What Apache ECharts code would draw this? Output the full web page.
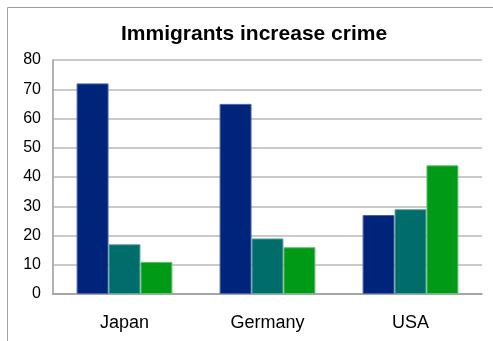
<!DOCTYPE html>
<html>
<head>
<meta charset="utf-8">
<script src="https://cdn.jsdelivr.net/npm/echarts@6/dist/echarts.min.js"></script>
<style>
  html, body { margin: 0; padding: 0; background: #fff; }
  #chart { width: 493px; height: 341px; }
</style>
</head>
<body>
<div id="chart"></div>
<script>
// Survey results: share agreeing that immigrants increase crime
const categories = ['Japan', 'Germany', 'USA'];
const seriesA = [72, 65, 27];
const seriesB = [17, 19, 29];
const seriesC = [11, 16, 44];
const yTicks = [0, 10, 20, 30, 40, 50, 60, 70, 80];

const chart = echarts.init(document.getElementById('chart'));
const font = 'Liberation Sans, Arial, sans-serif';

function barSeries(data, fill, edge) {
  return {
    type: 'bar',
    data: data,
    barGap: '0%',
    barCategoryGap: '33%',
    itemStyle: { color: fill, borderColor: edge, borderWidth: 1 },
    silent: true
  };
}

chart.setOption({
  animation: false,
  title: {
    text: 'Immigrants increase crime',
    left: 116,
    top: 19,
    textStyle: { fontFamily: font, fontSize: 21, fontWeight: 'bold', color: '#000' }
  },
  graphic: [
    { type: 'line', shape: { x1: 7.5, y1: 7.5, x2: 493, y2: 7.5 }, style: { stroke: '#a0a0a0', lineWidth: 1 } },
    { type: 'line', shape: { x1: 7.5, y1: 7.5, x2: 7.5, y2: 341 }, style: { stroke: '#a0a0a0', lineWidth: 1 } }
  ],
  grid: { left: 53, top: 60, right: 11, bottom: 47, containLabel: false },
  xAxis: {
    type: 'category',
    data: categories,
    axisLine: { show: true, lineStyle: { color: '#9a9a9a', width: 1.5 } },
    axisTick: { show: false },
    axisLabel: { fontFamily: font, fontSize: 18, color: '#000', margin: 20 }
  },
  yAxis: {
    type: 'value',
    min: yTicks[0],
    max: yTicks[yTicks.length - 1],
    interval: 10,
    axisLine: { show: true, lineStyle: { color: '#9a9a9a', width: 1.5 } },
    axisTick: { show: false },
    axisLabel: { fontFamily: font, fontSize: 16, color: '#000', margin: 12 },
    splitLine: { show: true, lineStyle: { color: '#b8b8b8', width: 1.5 } }
  },
  series: [
    barSeries(seriesA, '#00247a', '#4a63a8'),
    barSeries(seriesB, '#006d6b', '#5aa5a0'),
    barSeries(seriesC, '#009a17', '#66c070')
  ]
});
</script>
</body>
</html>
